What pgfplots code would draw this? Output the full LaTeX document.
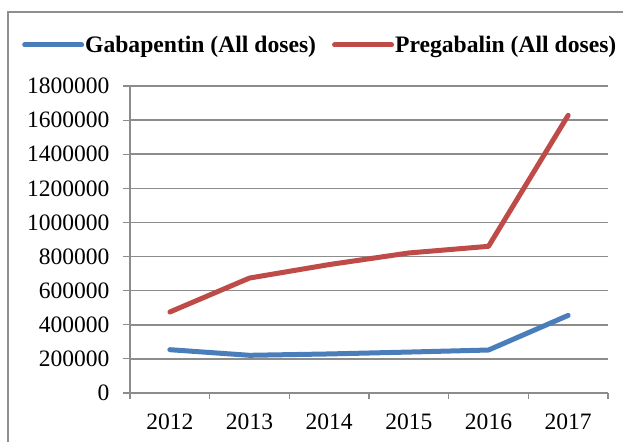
\documentclass[border=0pt]{standalone}
\usepackage{pgfplots}
\pgfplotsset{compat=1.18}
\usepackage{fontspec}
\setmainfont{Liberation Serif}
\definecolor{gabblue}{HTML}{4A7EBB}
\definecolor{pregred}{HTML}{BE4B48}
\definecolor{gridgray}{HTML}{8C8C8C}
\definecolor{framegray}{HTML}{8F8F8F}
\begin{document}
\begin{tikzpicture}[font=\fontsize{23.6}{28}\selectfont]
\useasboundingbox (0bp,0bp) rectangle (623bp,-442bp);
\draw[framegray, line width=1.3bp] (8bp,-442bp) -- (8bp,-12bp) -- (623bp,-12bp);
\begin{axis}[
  at={(130bp,-393bp)}, anchor=south west,
  width=478bp, height=307bp, scale only axis,
  xmin=-0.5, xmax=5.5, ymin=0, ymax=1800000,
  axis x line*=bottom, axis y line*=left,
  axis line style={gridgray, line width=1.2bp},
  xtick={0,1,2,3,4,5},
  xticklabels={2012,2013,2014,2015,2016,2017},
  minor xtick={-0.5,0.5,1.5,2.5,3.5,4.5,5.5},
  major x tick style={draw=none},
  minor x tick style={gridgray, line width=1.2bp},
  minor tick length=6bp,
  ytick={0,200000,...,1800000},
  major tick length=7bp,
  tick align=outside,
  y tick style={gridgray, line width=1.2bp},
  ymajorgrids,
  major grid style={gridgray, line width=1.5bp},
  scaled y ticks=false,
  /pgf/number format/fixed,
  /pgf/number format/precision=0,
  /pgf/number format/1000 sep={},
  /pgf/number format/assume math mode=true,
  yticklabel style={xshift=-10bp},
  xticklabel style={yshift=-10bp},
  legend style={at={(-0.226,1.1336)}, anchor=west, draw=none, fill=none,
    inner sep=0pt, font=\bfseries\fontsize{23.7}{28}\selectfont,
    nodes={inner sep=1bp},
    /tikz/every even column/.append style={column sep=15bp}},
  legend columns=2,
  legend image code/.code={\draw[#1, line cap=round] (0bp,0bp) -- (57bp,0bp);},
]
\addplot[gabblue, line width=5bp, line cap=round, line join=round] coordinates {
  (0,254000) (1,221000) (2,229000) (3,240000) (4,252000) (5,455000)};
\addlegendentry{Gabapentin (All doses)}
\addplot[pregred, line width=5bp, line cap=round, line join=round] coordinates {
  (0,475000) (1,674000) (2,753000) (3,821000) (4,860000) (5,1628000)};
\addlegendentry{Pregabalin (All doses)}
\end{axis}
\end{tikzpicture}
\end{document}
